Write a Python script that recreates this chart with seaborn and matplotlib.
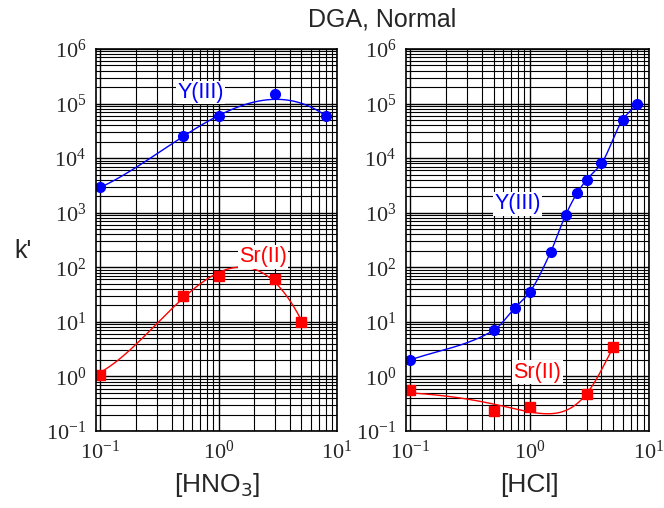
import numpy as np
import pandas as pd
import matplotlib
matplotlib.use("Agg")
import matplotlib.pyplot as plt
import matplotlib.ticker as mticker
import seaborn as sns

sns.set_style("white")
plt.rcParams["font.family"] = ["Liberation Sans", "DejaVu Sans"]
plt.rcParams["axes.unicode_minus"] = False

# --- data ---
hno3_y_x = [0.1, 0.5, 1.0, 3.0, 8.0]
hno3_y_k = [2.9e3, 2.5e4, 6.0e4, 1.5e5, 6.0e4]
hno3_sr_x = [0.1, 0.5, 1.0, 3.0, 5.0]
hno3_sr_k = [1.07, 30, 68, 60, 10]

hcl_y_x = [0.1, 0.5, 0.75, 1.0, 1.5, 2.0, 2.5, 3.0, 4.0, 6.0, 8.0]
hcl_y_k = [2.0, 7.0, 18, 35, 190, 900, 2300, 4000, 8000, 5.0e4, 1.0e5]
hcl_sr_x = [0.1, 0.5, 1.0, 3.0, 5.0]
hcl_sr_k = [0.57, 0.23, 0.27, 0.47, 3.4]

BLUE = "#0000ff"
RED = "#ff0000"


def fit_curve(x, k, deg, lo, hi, logx=True, w=None):
    # smooth polynomial fit of log k against log x (or plain x)
    fx = np.log10 if logx else (lambda v: np.asarray(v, float))
    c = np.polyfit(fx(np.asarray(x, float)), np.log10(k), deg, w=w)
    xs = np.logspace(np.log10(lo), np.log10(hi), 200)
    return pd.DataFrame({"x": xs, "k": 10 ** np.polyval(c, fx(xs))})


def pchip_curve(x, k, n=200):
    # monotone cubic through the points, in log-log space
    lx, lk = np.log10(x), np.log10(k)
    h = np.diff(lx)
    d = np.diff(lk) / h
    m = np.zeros_like(lx)
    for i in range(1, len(lx) - 1):
        if d[i - 1] * d[i] > 0:
            w1, w2 = 2 * h[i] + h[i - 1], h[i] + 2 * h[i - 1]
            m[i] = (w1 + w2) / (w1 / d[i - 1] + w2 / d[i])
    m[0], m[-1] = d[0], d[-1]
    xs = np.linspace(lx[0], lx[-1], n)
    j = np.clip(np.searchsorted(lx, xs) - 1, 0, len(h) - 1)
    t = (xs - lx[j]) / h[j]
    ys = ((2 * t**3 - 3 * t**2 + 1) * lk[j] + (t**3 - 2 * t**2 + t) * h[j] * m[j]
          + (-2 * t**3 + 3 * t**2) * lk[j + 1] + (t**3 - t**2) * h[j] * m[j + 1])
    return pd.DataFrame({"x": 10 ** xs, "k": 10 ** ys})


def style_axis(ax):
    ax.set_xscale("log")
    ax.set_yscale("log")
    ax.set_xlim(0.092, 10)
    ax.set_ylim(0.1, 1e6)
    ax.xaxis.set_major_locator(mticker.LogLocator(base=10, numticks=10))
    ax.yaxis.set_major_locator(mticker.LogLocator(base=10, numticks=10))
    ax.xaxis.set_minor_locator(mticker.LogLocator(base=10, subs=np.arange(2, 10), numticks=20))
    ax.yaxis.set_minor_locator(mticker.LogLocator(base=10, subs=np.arange(2, 10), numticks=20))
    ax.xaxis.set_minor_formatter(mticker.NullFormatter())
    ax.yaxis.set_minor_formatter(mticker.NullFormatter())
    ax.grid(which="major", color="black", linewidth=1.0)
    ax.grid(which="minor", color="black", linewidth=0.8)
    ax.tick_params(which="major", direction="inout", length=8, width=1,
                   labelsize=16, labelfontfamily="Liberation Serif",
                   top=False, right=False, pad=3)
    ax.tick_params(which="minor", direction="out", length=4, width=1)
    for s in ax.spines.values():
        s.set_color("black")
        s.set_linewidth(1.2)
    ax.set_xlabel("")
    ax.set_ylabel("")


fig = plt.figure(figsize=(6.64, 5.08), dpi=100)
ax1 = fig.add_axes([0.1446, 0.1516, 0.363, 0.752])
ax2 = fig.add_axes([0.6114, 0.1516, 0.366, 0.752])

# left panel: HNO3
sns.lineplot(data=fit_curve(hno3_y_x, hno3_y_k, 3, 0.092, 8.0, w=[1, 1, 1, 0.1, 1]),
             x="x", y="k", color=BLUE, linewidth=1, ax=ax1)
sns.lineplot(data=fit_curve(hno3_sr_x, hno3_sr_k, 3, 0.092, 5.0, w=[0.3, 1, 1, 1, 1]),
             x="x", y="k", color=RED, linewidth=1, ax=ax1)
ax1.plot(hno3_y_x, hno3_y_k, "o", color=BLUE, markersize=7)
ax1.plot(hno3_sr_x, hno3_sr_k, "s", color=RED, markersize=6.5)

# right panel: HCl
sns.lineplot(data=pchip_curve(hcl_y_x, hcl_y_k), x="x", y="k",
             color=BLUE, linewidth=1, ax=ax2)
sns.lineplot(data=fit_curve(hcl_sr_x, hcl_sr_k, 3, 0.1, 5.0, logx=False),
             x="x", y="k", color=RED, linewidth=1, ax=ax2)
ax2.plot(hcl_y_x, hcl_y_k, "o", color=BLUE, markersize=7)
ax2.plot(hcl_sr_x, hcl_sr_k, "s", color=RED, markersize=6.5)

for ax in (ax1, ax2):
    style_axis(ax)

box = dict(facecolor="white", edgecolor="none", pad=1)
ax1.text(0.7, 1.6e5, "Y(III)", color=BLUE, fontsize=15.5, ha="center", va="center", bbox=box)
ax1.text(2.37, 155, "Sr(II)", color=RED, fontsize=15.5, ha="center", va="center", bbox=box)
ax2.text(0.79, 1450, "Y(III)", color=BLUE, fontsize=15.5, ha="center", va="center", bbox=box)
ax2.text(1.16, 1.2, "Sr(II)", color=RED, fontsize=15.5, ha="center", va="center", bbox=box)

fig.text(0.575, 0.962, "DGA, Normal", fontsize=18, ha="center", va="center")
fig.text(0.035, 0.505, "k'", fontsize=18, ha="center", va="center")
fig.text(0.327, 0.045, "[HNO$_3$]", fontsize=19, ha="center", va="center")
fig.text(0.797, 0.045, "[HCl]", fontsize=19, ha="center", va="center")

fig.savefig("out.png", dpi=100)
